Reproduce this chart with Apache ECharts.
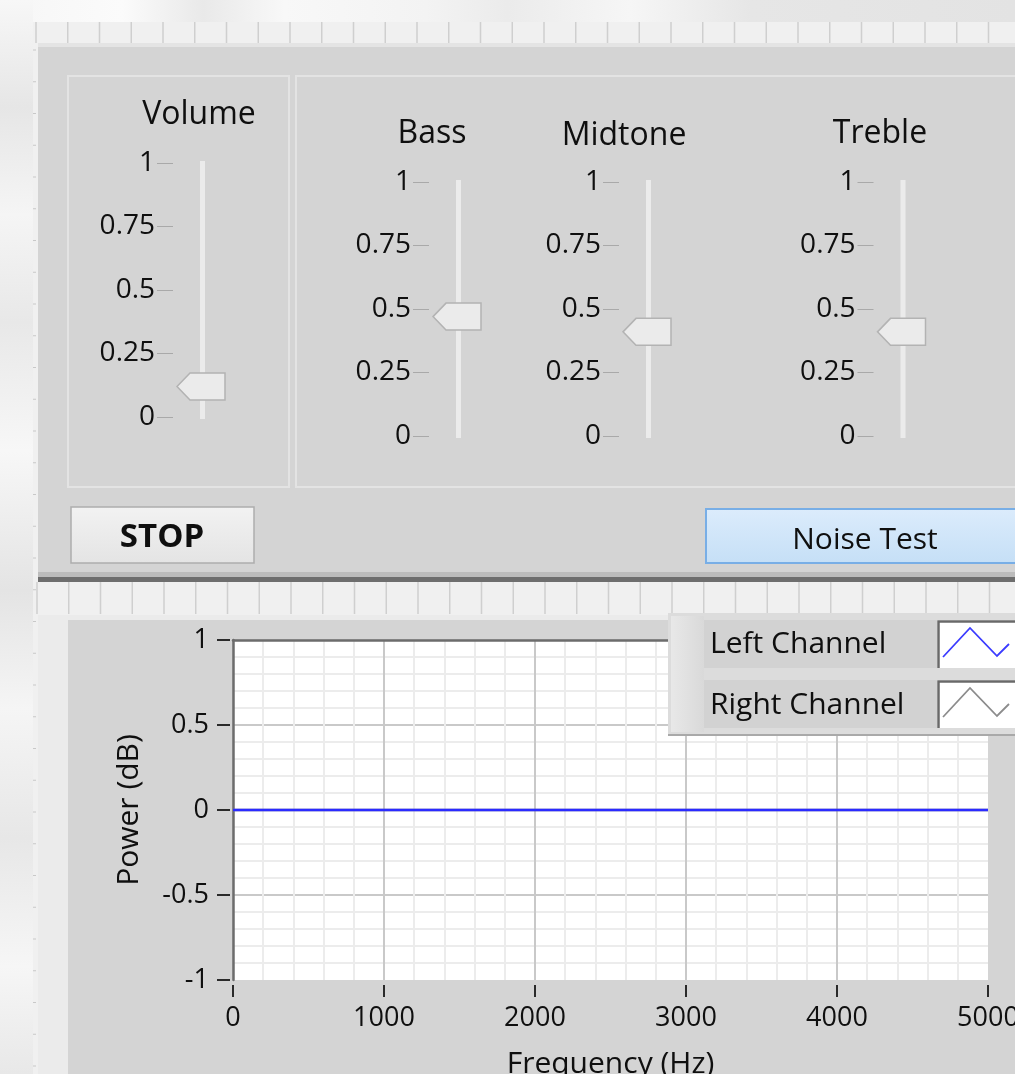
<!DOCTYPE html>
<html><head><meta charset="utf-8">
<script src="https://cdn.jsdelivr.net/npm/echarts@6/dist/echarts.min.js"></script>
<style>html,body{margin:0;padding:0;background:#f3f3f3;overflow:hidden}#c{width:1015px;height:1074px}</style>
</head><body><div id="c"></div>
<script>
// ---------------- data ----------------
const sliderNames = ['Volume', 'Bass', 'Midtone', 'Treble'];
const sliderValues = [0.12, 0.47, 0.41, 0.41];
const sliderTicks = [0, 0.25, 0.5, 0.75, 1];
const freqHz = [0, 1000, 2000, 3000, 4000, 5000];
const leftPowerDb = [0, 0, 0, 0, 0, 0];
const rightPowerDb = [0, 0, 0, 0, 0, 0];
const freqTicks = [0, 1000, 2000, 3000, 4000, 5000];
const powerTicks = [-1, -0.5, 0, 0.5, 1];
const legendNames = ['Left Channel', 'Right Channel'];
const buttonLabels = ['STOP', 'Noise Test'];
const axisNames = ['Frequency (Hz)', 'Power (dB)'];

// ---------------- layout / style ----------------
const FONT = "'Open Sans','Noto Sans',sans-serif";
const TXT = '#0f0f0f';
const PANEL = '#d4d4d4';
const sliderLayout = [
  {axisX: 173, top: 163, titleX: 199, titleY: 115},
  {axisX: 429, top: 182, titleX: 432, titleY: 134},
  {axisX: 619, top: 182, titleX: 624, titleY: 136},
  {axisX: 873.5, top: 182, titleX: 880, titleY: 134}
];
const SL_H = 254, SL_W = 59;

function rect(x, y, w, h, fill, z, extra) {
  return Object.assign({type: 'rect', z: z, silent: true, shape: {x: x, y: y, width: w, height: h}, style: {fill: fill}}, extra || {});
}
function seg(x1, y1, x2, y2, stroke, w, z) {
  return {type: 'line', z: z, silent: true, shape: {x1: x1, y1: y1, x2: x2, y2: y2}, style: {stroke: stroke, lineWidth: w}};
}
function txt(x, y, text, size, z, weight) {
  return {type: 'text', z: z, silent: true, x: x, y: y,
    style: {text: text, fill: TXT, fontSize: size, fontFamily: FONT, fontWeight: weight || 'normal', align: 'center', verticalAlign: 'middle'}};
}
const lin = (x1, y1, x2, y2, stops) => ({type: 'linear', x: x1, y: y1, x2: x2, y2: y2, colorStops: stops.map(s => ({offset: s[0], color: s[1]}))});

const G = [];
// outer blurred backdrop
G.push(rect(0, 0, 1015, 1074, '#f2f2f2', -20));
G.push(rect(0, 0, 1015, 22, lin(0, 0, 1, 0, [[0, '#f6f6f6'], [0.12, '#fbfbfb'], [0.2, '#e9e9e9'], [0.28, '#f8f8f8'], [0.42, '#f3f3f3'], [0.5, '#ebebeb'], [0.62, '#f6f6f6'], [0.74, '#e6e6e6'], [1, '#e3e3e3']]), -19));
G.push(rect(0, 0, 33, 1074, lin(0, 0, 0, 1, [[0, '#f7f7f7'], [0.1, '#e6e6e6'], [0.2, '#f5f5f5'], [0.3, '#e8e8e8'], [0.42, '#f7f7f7'], [0.55, '#e4e4e4'], [0.66, '#f5f5f5'], [0.78, '#e7e7e7'], [0.9, '#f6f6f6'], [1, '#e8e8e8']]), -19));
// top ruler
G.push(rect(33, 22, 982, 22, '#f0f0f0', -15));
for (let x = 36; x < 1015; x += 31.75) G.push(seg(x, 22, x, 43, '#cfcfcf', 1.5, -14));
G.push(rect(33, 43, 982, 4, '#e4e4e4', -15));
// left ruler strip
G.push(rect(33, 22, 5, 1052, '#f0f0f0', -15));
for (let y = 50; y < 1074; y += 31.75) G.push(seg(33, y, 36, y, '#c8c8c8', 1, -14));
// upper panel
G.push(rect(38, 47, 977, 527, PANEL, -12));
G.push(rect(68, 76, 221, 411, 'none', -11, {style: {fill: 'none', stroke: '#e3e3e3', lineWidth: 2}}));
G.push(rect(296, 76, 740, 411, 'none', -11, {style: {fill: 'none', stroke: '#e3e3e3', lineWidth: 2}}));
// buttons
G.push(rect(71, 507, 183, 56, 'none', -10, {style: {fill: lin(0, 0, 0, 1, [[0, '#f2f2f2'], [1, '#e4e4e4']]), stroke: '#adadad', lineWidth: 1.5}}));
G.push(txt(162, 538, buttonLabels[0], 33, -9, 'bold'));
G.push(rect(706, 509, 330, 54, 'none', -10, {style: {fill: lin(0, 0, 0, 1, [[0, '#dcecfc'], [1, '#c5dff6']]), stroke: '#78aee6', lineWidth: 2}}));
G.push(txt(865, 540, buttonLabels[1], 30, -9));
// divider
G.push(rect(38, 572, 977, 5, '#bcbcbc', -12));
G.push(rect(38, 577, 977, 5, '#6e6e6e', -12));
// lower ruler
G.push(rect(38, 582, 977, 33, '#f0f0f0', -12));
for (let x = 37; x < 1015; x += 31.75) G.push(seg(x, 582, x, 614, '#cfcfcf', 1.5, -11));
// lower panel
G.push(rect(38, 615, 977, 459, '#ebebeb', -12));
G.push(rect(68, 620, 947, 454, PANEL, -11));
// slider titles
sliderLayout.forEach((l, i) => G.push(txt(l.titleX, l.titleY, sliderNames[i], 32, -9)));
// legend panel (above plot)
G.push(rect(668, 613, 347, 123, '#a9a9a9', 5));
G.push(rect(668, 613, 347, 121, '#dcdcdc', 5));
G.push(rect(671, 616, 33, 116, lin(0, 0, 1, 0, [[0, '#e8e8e8'], [1, '#d9d9d9']]), 5));
[620, 680].forEach((ry, k) => {
  G.push(rect(704, ry, 233, 48, '#d2d2d2', 5));
  G.push(rect(937, ry, 80, 48, '#ffffff', 5));
  G.push({type: 'polyline', z: 5, silent: true, shape: {points: [[938.5, ry + 48], [938.5, ry + 1.5], [1016, ry + 1.5]]}, style: {stroke: '#696969', lineWidth: 2.5, fill: 'none'}});
  G.push({type: 'polyline', z: 5, silent: true, shape: {points: [[943, ry + 37], [970, ry + 8], [997, ry + 36], [1009, ry + 24]]},
    style: {stroke: k === 0 ? '#3b3bff' : '#8c8c8c', lineWidth: 1.8, fill: 'none'}});
});

// ---------------- echarts option ----------------
function renderTrack(params, api) {
  const t = api.coord([0.5, sliderTicks[sliderTicks.length - 1]]);
  const b = api.coord([0.5, sliderTicks[0]]);
  return {type: 'rect', shape: {x: t[0] - 2.5, y: t[1] - 2, width: 5, height: b[1] - t[1] + 4}, style: {fill: '#ebebeb'}};
}
function renderThumb(params, api) {
  const p = api.coord([api.value(0), api.value(1)]);
  const x = p[0], y = p[1];
  return {type: 'polygon', shape: {points: [[x - 25.5, y], [x - 12.5, y - 13.5], [x + 22.5, y - 13.5], [x + 22.5, y + 13.5], [x - 12.5, y + 13.5]]},
    style: {fill: '#ebebeb', stroke: '#b3b3b3', lineWidth: 1.5}};
}

const grids = sliderLayout.map(l => ({left: l.axisX, top: l.top, width: SL_W, height: SL_H, outerBoundsMode: 'none'}));
grids.push({left: 233, top: 640, width: 755, height: 340, show: true, backgroundColor: '#ffffff', borderWidth: 0, outerBoundsMode: 'none', containLabel: false});

const xAxes = sliderLayout.map((l, i) => ({type: 'value', gridIndex: i, min: 0, max: 1, show: false}));
xAxes.push({
  type: 'value', gridIndex: 4, min: freqTicks[0], max: freqTicks[freqTicks.length - 1], interval: freqTicks[1] - freqTicks[0],
  position: 'bottom', offset: 5,
  axisLine: {show: false, onZero: false},
  axisTick: {show: true, length: 12, lineStyle: {color: '#2a2a2a', width: 2}},
  axisLabel: {margin: 20, fontSize: 27, color: TXT, fontFamily: FONT, formatter: v => String(v)},
  splitLine: {show: true, showMaxLine: false, lineStyle: {color: '#c9c9c9', width: 2}},
  minorTick: {show: false, splitNumber: 5},
  minorSplitLine: {show: true, lineStyle: {color: '#ececec', width: 2}},
  name: axisNames[0], nameLocation: 'middle', nameGap: 64, nameTextStyle: {fontSize: 30, color: TXT, fontFamily: FONT}
});
xAxes.push({type: 'value', gridIndex: 4, min: freqTicks[0], max: freqTicks[freqTicks.length - 1], position: 'top',
  axisLine: {show: true, onZero: false, lineStyle: {color: '#6c6c6c', width: 2.5}}, axisTick: {show: false}, axisLabel: {show: false}, splitLine: {show: false}});

const yAxes = sliderLayout.map((l, i) => ({
  type: 'value', gridIndex: i, min: sliderTicks[0], max: sliderTicks[sliderTicks.length - 1], interval: sliderTicks[1] - sliderTicks[0], position: 'left',
  axisLine: {show: false}, axisTick: {show: true, length: 16, lineStyle: {color: '#a9a9a9', width: 1}},
  axisLabel: {margin: 18, fontSize: 28, color: TXT, fontFamily: FONT, padding: [6, 0, 0, 0]}, splitLine: {show: false}
}));
yAxes.push({
  type: 'value', gridIndex: 4, min: powerTicks[0], max: powerTicks[powerTicks.length - 1], interval: powerTicks[1] - powerTicks[0], position: 'left',
  axisLine: {show: true, onZero: false, lineStyle: {color: '#6c6c6c', width: 2.5}}, axisTick: {show: false}, axisLabel: {show: false},
  splitLine: {show: true, showMinLine: false, lineStyle: {color: '#c9c9c9', width: 2}},
  minorTick: {show: false, splitNumber: 5}, minorSplitLine: {show: true, lineStyle: {color: '#ececec', width: 2}}
});
yAxes.push({
  type: 'value', gridIndex: 4, min: powerTicks[0], max: powerTicks[powerTicks.length - 1], interval: powerTicks[1] - powerTicks[0], position: 'left', offset: 3,
  axisLine: {show: false, onZero: false}, axisTick: {show: true, length: 13, lineStyle: {color: '#2a2a2a', width: 2}},
  axisLabel: {margin: 21, fontSize: 27, color: TXT, fontFamily: FONT}, splitLine: {show: false},
  name: axisNames[1], nameLocation: 'middle', nameRotate: 90, nameGap: 86, nameTextStyle: {fontSize: 30, color: TXT, fontFamily: FONT}
});

const series = [];
sliderLayout.forEach((l, i) => {
  series.push({type: 'custom', xAxisIndex: i, yAxisIndex: i, encode: {x: 0, y: 1}, data: [[0.5, sliderTicks[0]]], renderItem: renderTrack, silent: true, z: 2});
  series.push({type: 'custom', name: sliderNames[i], xAxisIndex: i, yAxisIndex: i, encode: {x: 0, y: 1}, data: [[0.5, sliderValues[i]]], renderItem: renderThumb, silent: true, z: 3});
});
series.push({type: 'line', name: legendNames[1], xAxisIndex: 4, yAxisIndex: 4, data: freqHz.map((f, i) => [f, rightPowerDb[i]]),
  showSymbol: false, lineStyle: {color: '#8c8c8c', width: 2.5}, itemStyle: {color: '#8c8c8c'}, z: 2, silent: true});
series.push({type: 'line', name: legendNames[0], xAxisIndex: 4, yAxisIndex: 4, data: freqHz.map((f, i) => [f, leftPowerDb[i]]),
  showSymbol: false, lineStyle: {color: '#2b2bff', width: 2.5}, itemStyle: {color: '#2b2bff'}, z: 3, silent: true});

const option = {
  animation: false,
  backgroundColor: '#f2f2f2',
  textStyle: {fontFamily: FONT},
  grid: grids, xAxis: xAxes, yAxis: yAxes, series: series,
  legend: {data: legendNames, orient: 'vertical', left: 705, top: 620, padding: 0, itemWidth: 0, itemHeight: 48, itemGap: 22,
    icon: 'none', selectedMode: false, z: 8, textStyle: {fontSize: 30, color: TXT, fontFamily: FONT}},
  graphic: {elements: G}
};
const chart = echarts.init(document.getElementById('c'), null, {renderer: 'canvas', width: 1015, height: 1074});
chart.setOption(option);
</script></body></html>
